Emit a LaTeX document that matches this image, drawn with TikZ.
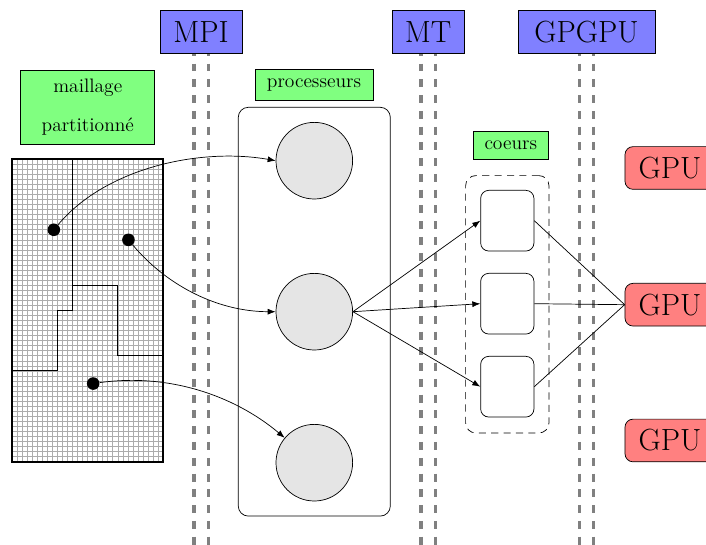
\documentclass[tikz,border=0pt]{standalone}
\usetikzlibrary{arrows.meta,backgrounds}
\begin{document}
\begin{tikzpicture}[x=0.01984cm,y=0.01984cm,
  >={Latex[length=4.5pt,width=3.4pt]},
  bigfont/.style={font=\fontsize{17.28}{20}\selectfont},
  lbl/.style={draw, fill=blue!50, bigfont, inner sep=0pt, minimum height=0.845cm},
  note/.style={draw, fill=green!50, font=\fontsize{11}{13}\selectfont, inner sep=0pt},
  gpubox/.style={draw, fill=red!50, rounded corners=0.16cm, bigfont, minimum width=1.786cm, minimum height=0.847cm, inner sep=0pt},
  proc/.style={draw, circle, fill=gray!20, minimum size=1.52cm, inner sep=0pt},
  corebox/.style={draw, rounded corners=0.16cm, minimum width=1.057cm, minimum height=1.204cm, inner sep=0pt},
  blob/.style={circle, fill=black, minimum size=0.25cm, inner sep=0pt},
  vline/.style={draw=gray, line width=1.7pt, dash pattern=on 4.5pt off 4.4pt},
  conn/.style={draw, ->}
]
\useasboundingbox (0,0) rectangle (706,545);
\clip (0,0) rectangle (706,545);

% header labels
\node[lbl, minimum width=1.627cm] (mpi) at (201,513) {MPI};
\node[lbl, minimum width=1.428cm] (mt) at (428,513) {MT};
\node[lbl, minimum width=2.718cm] (gpgpu) at (586.5,513) {GPGPU};

\coordinate (bot) at (0,-5);
\begin{scope}[on background layer]
  \foreach \n in {mpi,mt,gpgpu}{
    \coordinate (\n L) at ([xshift=-0.139cm]\n.center);
    \coordinate (\n R) at ([xshift=0.139cm]\n.center);
    \draw[vline] (\n L) -- (\n L |- bot);
    \draw[vline] (\n R) -- (\n R |- bot);
  }
\end{scope}

% mesh
\node[note, minimum width=2.659cm, minimum height=1.454cm, align=center,
      font=\fontsize{11}{22}\selectfont] (mesh) at (87.8,437.7) {maillage\\partitionné};
\begin{scope}[shift={(12,83.3)}, x=0.1cm, y=0.1cm]
  \draw[gray!65, line width=0.4pt, step=1] (0,0) grid (30,60);
  \draw[line width=0.6pt] (12,60) -- (12,30) -- (9,30) -- (9,18) -- (0,18);
  \draw[line width=0.6pt] (12,35) -- (21,35) -- (21,21) -- (30,21);
  \draw[line width=1.2pt] (0,0) rectangle (30,60);
  \node[blob] (d1) at (8.3,46) {};
  \node[blob] (d2) at (23.1,44) {};
  \node[blob] (d3) at (16.1,15.5) {};
\end{scope}

% processors
\node[note, minimum width=2.341cm, minimum height=0.629cm] (ptitle) at (314,460) {processeurs};
\node[draw, rounded corners=0.2cm, minimum width=3.016cm, minimum height=8.109cm, inner sep=0pt] (procbox) at (314.3,233.3) {};
\node[proc] (c1) at (314.3,384.3) {};
\node[proc] (c2) at (314.3,233.3) {};
\node[proc] (c3) at (314.3,82.3) {};

% cores
\node[note, minimum width=1.488cm, minimum height=0.542cm] (ctitle) at (510.8,399.7) {coeurs};
\node[draw, dash pattern=on 4pt off 3pt, rounded corners=0.2cm, minimum width=1.653cm, minimum height=5.105cm, inner sep=0pt] (corecont) at (507.3,240.7) {};
\node[corebox] (k1) at (507.3,324.3) {};
\node[corebox] (k2) at (507.3,241.3) {};
\node[corebox] (k3) at (507.3,158.3) {};

% GPUs
\node[gpubox] (g1) at (670,377) {GPU};
\node[gpubox] (g2) at (670,240.3) {GPU};
\node[gpubox] (g3) at (670,104.5) {GPU};

% connectors
\draw[conn] (c2.east) -- (k1.west);
\draw[conn] (c2.east) -- (k2.west);
\draw[conn] (c2.east) -- (k3.west);
\draw (k1.east) -- (g2.west);
\draw (k2.east) -- (g2.west);
\draw (k3.east) -- (g2.west);

\draw[conn] (d1) to[out=50,in=170,looseness=0.85] (c1.west);
\draw[conn] (d2) to[out=-50,in=180,looseness=0.9] (c2.west);
\draw[conn] (d3) to[out=8,in=140,looseness=0.9] (c3);
\end{tikzpicture}
\end{document}
